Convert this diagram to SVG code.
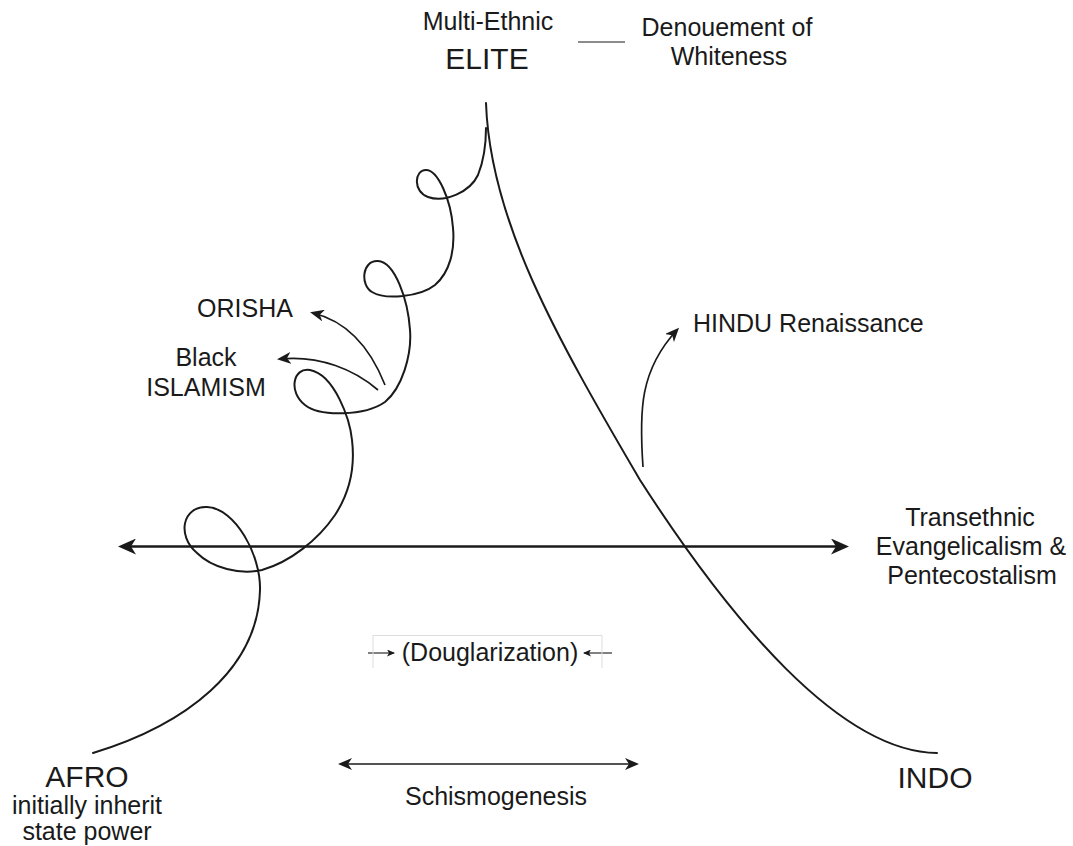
<svg xmlns="http://www.w3.org/2000/svg" width="1073" height="846" viewBox="0 0 1073 846">
<style>
  text { font-family: "Liberation Sans", Arial, sans-serif; fill: #1a1a1a; }
  .lbl { font-size: 25px; }
  .big { font-size: 30px; }
  .mid { text-anchor: middle; }
  .curve { fill: none; stroke: #1a1a1a; stroke-width: 2; stroke-linecap: round; stroke-linejoin: round; }
  .arr { fill: none; stroke: #1a1a1a; stroke-width: 1.7; stroke-linecap: butt; }
  .harr { fill: none; stroke: #1a1a1a; stroke-width: 2.5; }
  .thin { fill: none; stroke: #1a1a1a; stroke-width: 1.1; }
  .faint { fill: none; stroke: #dddddd; stroke-width: 1; }
</style>
<defs>
  <marker id="ahL" viewBox="0 0 18 16" refX="14" refY="8" markerWidth="18" markerHeight="16" markerUnits="userSpaceOnUse" orient="auto-start-reverse">
    <path d="M0,0 L18,8 L0,16 L5,8 z" fill="#1a1a1a"/>
  </marker>
  <marker id="ahM" viewBox="0 0 14 12" refX="11" refY="6" markerWidth="14" markerHeight="12" markerUnits="userSpaceOnUse" orient="auto-start-reverse">
    <path d="M0,0 L14,6 L0,12 L4,6 z" fill="#1a1a1a"/>
  </marker>
  <marker id="ahS" viewBox="0 0 8 7" refX="7" refY="3.5" markerWidth="8" markerHeight="7" markerUnits="userSpaceOnUse" orient="auto-start-reverse">
    <path d="M0,0 L8,3.5 L0,7 L2,3.5 z" fill="#1a1a1a"/>
  </marker>
</defs>
<rect width="1073" height="846" fill="#ffffff"/>

<g id="connectors">
  <!-- Afro spiral up to Elite -->
  <path class="curve" d="M93,753 C185,725 258,670 260,590 C261,555 235,508 207,507 C183,506 176,535 197,553 C212,568 240,575 262,570 C290,562 318,540 335,515 C350,492 355,465 352,440 C350,420 335,375 310,370 C293,367 288,392 305,405 C320,417 365,416 385,402 C402,388 412,355 410,330 C408,300 395,262 378,261 C362,260 360,285 372,292 C385,300 420,297 435,285 C450,272 455,250 453,228 C451,200 438,170 426,170 C414,170 413,192 428,197 C445,203 470,192 478,175 C484,160 486,140 486,128"/>
  <!-- Elite down to Indo -->
  <path class="curve" d="M486,103 C490,220 555,335 640,480 C730,620 840,752 937,753"/>
  <!-- Elite to Denouement -->
  <line class="thin" x1="578" y1="42" x2="625" y2="42"/>
  <!-- ORISHA arrow -->
  <path class="arr" d="M385,385 C372,352 350,322 313,313" marker-end="url(#ahM)"/>
  <!-- Black ISLAMISM arrow -->
  <path class="arr" d="M378,390 C355,370 320,355 280,359" marker-end="url(#ahM)"/>
  <!-- HINDU arrow -->
  <path class="arr" d="M643,467 C639,410 640,370 677,330" marker-end="url(#ahM)" stroke-width="1.5"/>
  <!-- Transethnic horizontal -->
  <line class="harr" x1="122" y1="546.5" x2="845" y2="546.5" marker-start="url(#ahL)" marker-end="url(#ahL)"/>
  <!-- Schismogenesis -->
  <line class="arr" x1="341" y1="764" x2="636" y2="764" marker-start="url(#ahM)" marker-end="url(#ahM)"/>
  <!-- Douglarization small arrows -->
  <line class="thin" x1="368" y1="653" x2="394" y2="653" marker-end="url(#ahS)"/>
  <line class="thin" x1="612" y1="653" x2="584" y2="653" marker-end="url(#ahS)"/>
</g>

<g id="elite">
  <text class="lbl mid" x="488" y="30">Multi-Ethnic</text>
  <text class="big mid" x="487" y="69">ELITE</text>
</g>
<g id="denouement">
  <text class="lbl mid" x="727" y="36">Denouement of</text>
  <text class="lbl mid" x="729" y="65">Whiteness</text>
</g>
<g id="orisha">
  <text class="lbl mid" x="245" y="317">ORISHA</text>
</g>
<g id="black-islamism">
  <text class="lbl mid" x="206" y="366">Black</text>
  <text class="lbl mid" x="206" y="396">ISLAMISM</text>
</g>
<g id="hindu">
  <text class="lbl" x="693" y="332">HINDU Renaissance</text>
</g>
<g id="transethnic">
  <text class="lbl mid" x="970" y="526">Transethnic</text>
  <text class="lbl mid" x="971" y="555">Evangelicalism &amp;</text>
  <text class="lbl mid" x="972" y="584">Pentecostalism</text>
</g>
<g id="douglarization">
  <polyline class="faint" points="373,668 373,635.5 602,635.5 602,668"/>
  <text class="lbl mid" x="490" y="661">(Douglarization)</text>
</g>
<g id="schismogenesis">
  <text class="lbl mid" x="496" y="805">Schismogenesis</text>
</g>
<g id="afro">
  <text class="big mid" x="87" y="787">AFRO</text>
  <text class="lbl mid" x="87" y="814">initially inherit</text>
  <text class="lbl mid" x="87" y="840">state power</text>
</g>
<g id="indo">
  <text class="big mid" x="935" y="788">INDO</text>
</g>
</svg>
